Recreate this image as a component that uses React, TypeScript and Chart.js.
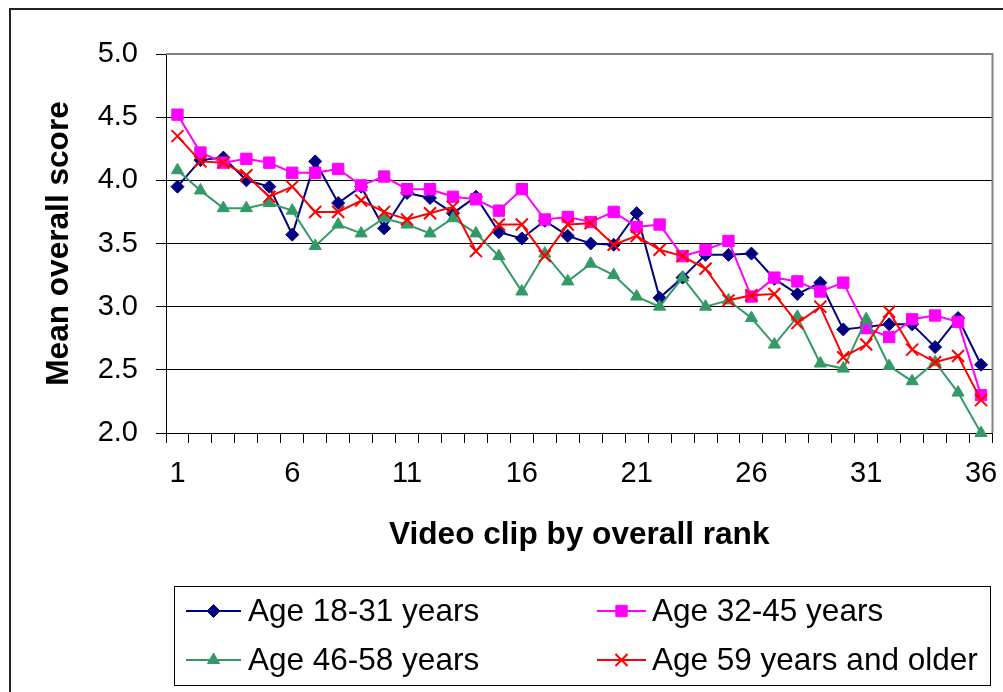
import React, { useEffect, useRef } from "react";
import { Chart, registerables } from "chart.js";

Chart.register(...registerables);

const clipLabels = ["1","2","3","4","5","6","7","8","9","10","11","12","13","14","15","16","17","18","19","20","21","22","23","24","25","26","27","28","29","30","31","32","33","34","35","36"];
const shownXTicks = ["1", "6", "11", "16", "21", "26", "31", "36"];
const yTicks = [2.0, 2.5, 3.0, 3.5, 4.0, 4.5, 5.0];

const age18to31 = [3.95, 4.16, 4.18, 4.00, 3.95, 3.57, 4.15, 3.82, 3.95, 3.62, 3.90, 3.86, 3.74, 3.87, 3.59, 3.54, 3.68, 3.56, 3.50, 3.49, 3.74, 3.07, 3.23, 3.41, 3.41, 3.42, 3.22, 3.10, 3.19, 2.82, 2.84, 2.86, 2.86, 2.68, 2.91, 2.54];
const age32to45 = [4.52, 4.22, 4.14, 4.17, 4.14, 4.06, 4.06, 4.09, 3.96, 4.03, 3.93, 3.93, 3.87, 3.85, 3.76, 3.93, 3.69, 3.71, 3.67, 3.75, 3.63, 3.65, 3.40, 3.45, 3.52, 3.08, 3.23, 3.20, 3.12, 3.19, 2.83, 2.76, 2.90, 2.93, 2.88, 2.30];
const age46to58 = [4.08, 3.92, 3.78, 3.78, 3.82, 3.76, 3.48, 3.65, 3.58, 3.70, 3.65, 3.58, 3.70, 3.58, 3.40, 3.12, 3.42, 3.20, 3.34, 3.25, 3.08, 3.00, 3.23, 3.00, 3.05, 2.91, 2.70, 2.92, 2.55, 2.51, 2.90, 2.53, 2.41, 2.56, 2.32, 2.00];
const age59plus = [4.35, 4.15, 4.14, 4.04, 3.87, 3.95, 3.75, 3.75, 3.84, 3.75, 3.69, 3.74, 3.79, 3.44, 3.65, 3.65, 3.40, 3.65, 3.66, 3.49, 3.56, 3.45, 3.40, 3.30, 3.05, 3.09, 3.10, 2.87, 3.00, 2.60, 2.70, 2.96, 2.66, 2.56, 2.61, 2.26];

const seriesNames = ["Age 18-31 years", "Age 32-45 years", "Age 46-58 years", "Age 59 years and older"];
const xTitle = "Video clip by overall rank";
const yTitle = "Mean overall score";

const FONT = "'Liberation Sans', Arial, Helvetica, sans-serif";

const seriesStyles = [
  { color: "#000080", pointStyle: "rectRot", radius: 6.5, pointBorderWidth: 1 },
  { color: "#FF00FF", pointStyle: "rect", radius: 8, pointBorderWidth: 1 },
  { color: "#339966", pointStyle: "triangle", radius: 7, pointBorderWidth: 1 },
  { color: "#FF0000", pointStyle: "crossRot", radius: 8.5, pointBorderWidth: 2 },
];

function drawMarker(ctx: CanvasRenderingContext2D, style: string, r: number, x: number, y: number) {
  ctx.beginPath();
  if (style === "rectRot") {
    ctx.moveTo(x, y - r); ctx.lineTo(x + r, y); ctx.lineTo(x, y + r); ctx.lineTo(x - r, y); ctx.closePath();
    ctx.fill(); ctx.stroke();
  } else if (style === "rect") {
    const s = r * Math.SQRT1_2;
    ctx.rect(x - s, y - s, 2 * s, 2 * s); ctx.fill(); ctx.stroke();
  } else if (style === "triangle") {
    ctx.moveTo(x, y - r);
    ctx.lineTo(x + r * Math.sin(2 * Math.PI / 3), y - r * Math.cos(2 * Math.PI / 3));
    ctx.lineTo(x + r * Math.sin(4 * Math.PI / 3), y - r * Math.cos(4 * Math.PI / 3));
    ctx.closePath(); ctx.fill(); ctx.stroke();
  } else {
    const d = r * Math.SQRT1_2;
    ctx.moveTo(x - d, y - d); ctx.lineTo(x + d, y + d);
    ctx.moveTo(x + d, y - d); ctx.lineTo(x - d, y + d);
    ctx.stroke();
  }
}

const overlayPlugin = {
  id: "overlay",
  beforeDatasetsDraw(chart: any) {
    const { ctx, chartArea } = chart;
    ctx.save();
    ctx.strokeStyle = "#808080";
    ctx.lineWidth = 2;
    ctx.beginPath();
    ctx.moveTo(chartArea.left, chartArea.top);
    ctx.lineTo(chartArea.right, chartArea.top);
    ctx.lineTo(chartArea.right, chartArea.bottom);
    ctx.stroke();
    ctx.restore();
  },
  afterDraw(chart: any) {
    const { ctx, chartArea } = chart;
    ctx.save();
    // axis titles
    ctx.fillStyle = "#000";
    ctx.font = `bold 31.6px ${FONT}`;
    ctx.textAlign = "center";
    ctx.textBaseline = "alphabetic";
    ctx.fillText(xTitle, (chartArea.left + chartArea.right) / 2, 544);
    ctx.save();
    ctx.translate(68, (chartArea.top + chartArea.bottom) / 2);
    ctx.rotate(-Math.PI / 2);
    ctx.fillText(yTitle, 0, 0);
    ctx.restore();

    // legend box
    const bx = 174.5, by = 586.5, bw = 816, bh = 99;
    ctx.strokeStyle = "#000";
    ctx.lineWidth = 1;
    ctx.strokeRect(bx, by, bw, bh);

    const items = [
      { lx1: 186, lx2: 241, tx: 248, y: 611 },
      { lx1: 597, lx2: 646, tx: 652, y: 611 },
      { lx1: 186, lx2: 241, tx: 248, y: 660 },
      { lx1: 597, lx2: 646, tx: 652, y: 660 },
    ];
    items.forEach((it, i) => {
      const st = seriesStyles[i];
      ctx.strokeStyle = st.color;
      ctx.lineWidth = 2;
      ctx.beginPath();
      ctx.moveTo(it.lx1, it.y);
      ctx.lineTo(it.lx2, it.y);
      ctx.stroke();
      ctx.fillStyle = st.color;
      ctx.lineWidth = st.pointBorderWidth;
      drawMarker(ctx, st.pointStyle, st.radius, (it.lx1 + it.lx2) / 2, it.y);
      ctx.fillStyle = "#000";
      ctx.font = `31.5px ${FONT}`;
      ctx.textAlign = "left";
      ctx.textBaseline = "middle";
      ctx.fillText(seriesNames[i], it.tx, it.y + 1);
    });
    ctx.restore();
  },
};

export default function App() {
  const canvasRef = useRef<HTMLCanvasElement | null>(null);

  useEffect(() => {
    const canvas = canvasRef.current;
    if (!canvas) return;
    const datasets = [age18to31, age32to45, age46to58, age59plus].map((data, i) => {
      const st = seriesStyles[i];
      return {
        label: seriesNames[i],
        data,
        borderColor: st.color,
        backgroundColor: st.color,
        borderWidth: 2,
        pointStyle: st.pointStyle,
        pointRadius: st.radius,
        pointHoverRadius: st.radius,
        pointBorderWidth: st.pointBorderWidth,
        pointBackgroundColor: st.color,
        pointBorderColor: st.color,
        tension: 0,
        clip: false as any,
        order: 4 - i,
      };
    });

    const chart = new Chart(canvas, {
      type: "line",
      data: { labels: clipLabels, datasets: datasets as any },
      plugins: [overlayPlugin as any],
      options: {
        animation: false,
        responsive: false,
        maintainAspectRatio: false,
        devicePixelRatio: 1,
        layout: { padding: { left: 0, top: 54, right: 8, bottom: 199 } },
        plugins: { legend: { display: false }, tooltip: { enabled: false } },
        scales: {
          x: {
            type: "category",
            offset: true,
            afterFit: (scale: any) => { scale.height = 60; scale.paddingLeft = 0; scale.paddingRight = 0; },
            grid: { display: true, drawOnChartArea: false, offset: true, drawTicks: true, tickLength: 10, color: "#000", lineWidth: 1 },
            border: { display: true, color: "#000", width: 1 },
            ticks: {
              autoSkip: false,
              maxRotation: 0,
              minRotation: 0,
              padding: 14,
              color: "#000",
              font: { family: FONT, size: 29 },
              callback: (_v: any, idx: number) => (shownXTicks.includes(clipLabels[idx]) ? clipLabels[idx] : ""),
            },
          },
          y: {
            min: 2,
            max: 5,
            afterFit: (scale: any) => { scale.width = 166; scale.paddingTop = 0; scale.paddingBottom = 0; },
            afterBuildTicks: (scale: any) => { scale.ticks = yTicks.map((v) => ({ value: v })); },
            grid: { color: "#000", lineWidth: 1, tickLength: 10, drawTicks: true },
            border: { display: true, color: "#000", width: 1 },
            ticks: {
              padding: 18,
              color: "#000",
              font: { family: FONT, size: 29 },
              callback: (v: any) => Number(v).toFixed(1),
            },
          },
        },
      } as any,
    });
    return () => chart.destroy();
  }, []);

  return (
    <div style={{ position: "absolute", left: 0, top: 0, width: 1003, height: 692, background: "#fff", overflow: "hidden" }}>
      <canvas ref={canvasRef} width={1003} height={692} style={{ position: "absolute", left: 0, top: 0, width: 1003, height: 692 }} />
      <div style={{ position: "absolute", left: 9, top: 8, width: 1100, height: 800, borderLeft: "2px solid #222", borderTop: "2px solid #222", pointerEvents: "none" }} />
    </div>
  );
}
